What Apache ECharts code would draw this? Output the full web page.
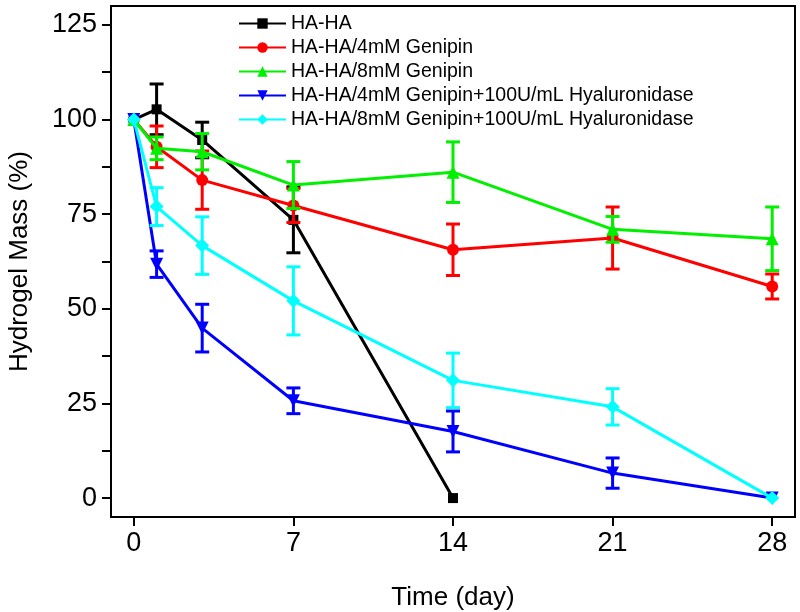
<!DOCTYPE html>
<html>
<head>
<meta charset="utf-8">
<script src="https://cdn.jsdelivr.net/npm/echarts@6/dist/echarts.min.js"></script>
<style>html,body{margin:0;padding:0;background:#fff;}#c{width:800px;height:612px;}</style>
</head>
<body>
<div id="c"></div>
<script>
const days = [0, 1, 3, 7, 14, 21, 28];
const hahaDays = [0, 1, 3, 7, 14];
const haha = [100, 102.7, 94.6, 73.5, 0];
const hahaErr = [0, 6.7, 4.7, 8.7, 0];
const gen4 = [100, 92.8, 84.0, 77.3, 65.6, 68.7, 55.9];
const gen4Err = [0, 5.5, 7.7, 4.5, 6.8, 8.2, 3.3];
const gen8 = [100, 92.4, 91.5, 82.7, 86.1, 71.0, 68.5];
const gen8Err = [0, 3.0, 4.8, 6.2, 8.0, 3.4, 8.4];
const gen4H = [100, 61.8, 44.9, 25.7, 17.6, 6.6, 0];
const gen4HErr = [0, 3.5, 6.3, 3.4, 5.4, 4.0, 0];
const gen8H = [100, 77.0, 66.7, 52.1, 31.1, 24.1, 0];
const gen8HErr = [0, 5.0, 7.6, 9.0, 7.2, 4.8, 0];
const names = ['HA-HA', 'HA-HA/4mM Genipin', 'HA-HA/8mM Genipin',
  'HA-HA/4mM Genipin+100U/mL Hyaluronidase', 'HA-HA/8mM Genipin+100U/mL Hyaluronidase'];
const xTicks = [0, 7, 14, 21, 28];
const yTicks = [0, 25, 50, 75, 100, 125];
const yMinor = [0, 12.5, 25, 37.5, 50, 62.5, 75, 87.5, 100, 112.5, 125];

const colors = ['#000000', '#FF0000', '#00F000', '#0000FF', '#00FFFF'];
const symbols = ['rect', 'circle', 'triangle', 'path://M0,0 L10,0 L5,9 Z', 'diamond'];
const symSizes = [10, 12, 13, 13, 14];
const sets = [
  [hahaDays, haha, hahaErr],
  [days, gen4, gen4Err],
  [days, gen8, gen8Err],
  [days, gen4H, gen4HErr],
  [days, gen8H, gen8HErr]
];

const series = [];
sets.forEach((s, i) => {
  const [xs, ys, es] = s;
  const errData = [];
  xs.forEach((x, k) => { if (es[k] > 0) errData.push([x, ys[k] - es[k], ys[k] + es[k]]); });
  series.push({
    type: 'custom',
    name: names[i] + ' err',
    data: errData,
    z: 2 + i,
    silent: true,
    renderItem: function (params, api) {
      const x = api.value(0);
      const lo = api.coord([x, api.value(1)]);
      const hi = api.coord([x, api.value(2)]);
      const w = 7;
      const st = { stroke: colors[i], lineWidth: 3 };
      return {
        type: 'group',
        children: [
          { type: 'line', shape: { x1: lo[0], y1: lo[1], x2: hi[0], y2: hi[1] }, style: st },
          { type: 'line', shape: { x1: lo[0] - w, y1: lo[1], x2: lo[0] + w, y2: lo[1] }, style: st },
          { type: 'line', shape: { x1: hi[0] - w, y1: hi[1], x2: hi[0] + w, y2: hi[1] }, style: st }
        ]
      };
    }
  });
  series.push({
    type: 'line',
    name: names[i],
    data: xs.map((x, k) => [x, ys[k]]),
    z: 2 + i,
    symbol: symbols[i],
    symbolSize: symSizes[i],
    showAllSymbol: true,
    lineStyle: { color: colors[i], width: 3 },
    itemStyle: { color: colors[i], borderWidth: 0 },
    emphasis: { disabled: true }
  });
});

const chart = echarts.init(document.getElementById('c'), null, { renderer: 'canvas' });
chart.setOption({
  animation: false,
  backgroundColor: '#fff',
  textStyle: { fontFamily: 'Liberation Sans, Arial, sans-serif' },
  grid: { left: 111, top: 6, right: 5, bottom: 95, show: true, borderColor: '#000', borderWidth: 2,
          containLabel: false, outerBoundsMode: 'none' },
  legend: {
    data: names,
    orient: 'vertical',
    left: 233,
    top: 8,
    itemWidth: 47,
    itemHeight: 13,
    itemGap: 3,
    textStyle: { fontSize: 19.5, color: '#000', fontFamily: 'Liberation Sans, Arial, sans-serif', lineHeight: 21 }
  },
  xAxis: {
    type: 'value',
    min: -1,
    max: 29,
    name: 'Time (day)',
    nameLocation: 'middle',
    nameGap: 68,
    nameTextStyle: { fontSize: 26, color: '#000' },
    axisLine: { show: true, onZero: false, lineStyle: { color: '#000', width: 2 } },
    axisTick: { show: true, customValues: xTicks, length: 9, inside: false, lineStyle: { color: '#000', width: 2 } },
    axisLabel: { customValues: xTicks, fontSize: 27, color: '#000', margin: 13 },
    splitLine: { show: false }
  },
  yAxis: {
    type: 'value',
    min: -5,
    max: 130,
    name: 'Hydrogel Mass (%)',
    nameLocation: 'middle',
    nameGap: 78,
    nameTextStyle: { fontSize: 26, color: '#000' },
    axisLine: { show: true, onZero: false, lineStyle: { color: '#000', width: 2 } },
    axisTick: { show: true, customValues: yMinor, length: 9, inside: false, lineStyle: { color: '#000', width: 2 } },
    axisLabel: { customValues: yTicks, fontSize: 27, color: '#000', margin: 14 },
    splitLine: { show: false }
  },
  series: series
});
</script>
</body>
</html>
